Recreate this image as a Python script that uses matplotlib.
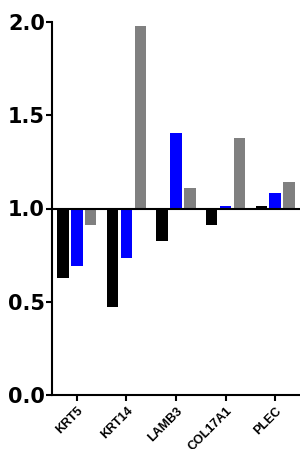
import numpy as np
import matplotlib.pyplot as plt

plt.rcParams['font.family'] = ['Liberation Sans', 'DejaVu Sans']

genes = ['KRT5', 'KRT14', 'LAMB3', 'COL17A1', 'PLEC']
black_vals = [0.63, 0.47, 0.825, 0.91, 1.012]
blue_vals = [0.69, 0.737, 1.405, 1.012, 1.084]
gray_vals = [0.91, 1.98, 1.112, 1.38, 1.141]

fig = plt.figure(figsize=(3, 4.49), dpi=100)
ax = fig.add_axes([52 / 300, 54 / 449, 248 / 300, (395 - 22) / 449])

x = np.arange(len(genes))
w = 0.23
base = 1.0
for off, vals, col in [(-0.28, black_vals, 'black'), (0, blue_vals, '#0000ff'), (0.28, gray_vals, '#808080')]:
    ax.bar(x + off, np.array(vals) - base, bottom=base, width=w, color=col, zorder=2)

ax.axhline(1.0, color='black', lw=1.5, zorder=3)

ax.set_xlim(-0.5, 4.5)
ax.set_ylim(0, 2.0)
ax.set_yticks([0, 0.5, 1.0, 1.5, 2.0])
ax.set_yticklabels(['0.0', '0.5', '1.0', '1.5', '2.0'], fontsize=15, fontweight='bold', family='DejaVu Sans')
ax.set_xticks(x)
ax.set_xticklabels(genes, rotation=45, ha='right', rotation_mode='anchor', fontsize=9, fontweight='bold')

for s in ['top', 'right']:
    ax.spines[s].set_visible(False)
for s in ['left', 'bottom']:
    ax.spines[s].set_linewidth(1.5)
ax.tick_params(axis='both', width=1.5, length=4, pad=1)
ax.tick_params(axis='x', pad=3)

fig.savefig('out.png', dpi=100)
